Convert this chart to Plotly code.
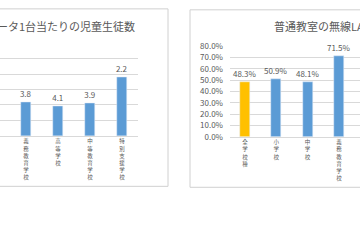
import plotly.graph_objects as go

# ---- data ----
left_title = "コンピュータ1台当たりの児童生徒数"
left_categories = ["義務教育学校", "高等学校", "中等教育学校", "特別支援学校"]
left_values = [3.8, 4.1, 3.9, 2.2]
left_axis_max = 6

right_title = "普通教室の無線LAN整備率"
right_categories = ["全学校種", "小学校", "中学校", "義務教育学校", "高等学校"]
right_values = [48.3, 50.9, 48.1, 71.5, 40.1]
right_tickvals = [0, 10, 20, 30, 40, 50, 60, 70, 80]

BLUE = "#5B9BD5"
YELLOW = "#FFC000"
GRID = "#D9D9D9"
TXT = "#595959"
FONT = "Noto Sans CJK JP"

W, H = 360, 240


def px(x):
    return x / W


def py(y):
    return 1 - y / H


def vert(s):
    return "<br>".join(list(s))


fig = go.Figure()

# left chart: reversed axis, bars rise from the axis maximum up to the value
fig.add_trace(go.Bar(
    x=list(range(len(left_categories))),
    y=[v - left_axis_max for v in left_values],
    base=left_axis_max,
    marker_color=BLUE,
    width=0.31,
    text=[f"{v:.1f}" for v in left_values],
    textposition="outside",
    constraintext="none",
    textfont=dict(size=8, color=TXT, family=FONT),
    cliponaxis=False,
    xaxis="x", yaxis="y",
))

colors = [YELLOW] + [BLUE] * (len(right_values) - 1)
fig.add_trace(go.Bar(
    x=list(range(len(right_categories))),
    y=right_values,
    marker_color=colors,
    width=0.32,
    text=[f"{v:.1f}%" for v in right_values],
    textposition="outside",
    constraintext="none",
    textfont=dict(size=8, color=TXT, family=FONT),
    cliponaxis=False,
    xaxis="x2", yaxis="y2",
))

fig.update_layout(
    width=W, height=H,
    margin=dict(l=0, r=0, t=0, b=0),
    paper_bgcolor="white",
    plot_bgcolor="white",
    showlegend=False,
    bargap=0,
    font=dict(family=FONT, color=TXT),
    xaxis=dict(
        domain=[0, px(138)],
        range=[-0.8125, len(left_categories) - 0.5],
        tickmode="array",
        tickvals=list(range(len(left_categories))),
        ticktext=[vert(c) for c in left_categories],
        tickfont=dict(size=5.5, color=TXT, family=FONT),
        showgrid=False, zeroline=False,
        showline=True, linecolor=GRID, linewidth=1,
        ticks="", anchor="y",
    ),
    yaxis=dict(
        domain=[py(136), py(39)],
        range=[left_axis_max, 0],
        dtick=1,
        showticklabels=False,
        gridcolor=GRID, gridwidth=1,
        zeroline=False, anchor="x",
    ),
    xaxis2=dict(
        domain=[px(230), 1],
        range=[-0.479, 3.674],
        tickmode="array",
        tickvals=list(range(len(right_categories))),
        ticktext=[vert(c) for c in right_categories],
        tickfont=dict(size=5.5, color=TXT, family=FONT),
        showgrid=False, zeroline=False,
        showline=True, linecolor=GRID, linewidth=1,
        ticks="", anchor="y2",
    ),
    yaxis2=dict(
        domain=[py(137), py(42)],
        range=[0, 80],
        tickmode="array",
        tickvals=right_tickvals,
        ticktext=[f"{v:.1f}%" for v in right_tickvals],
        tickfont=dict(size=8, color=TXT, family=FONT),
        gridcolor=GRID, gridwidth=1,
        zeroline=False, anchor="x2",
        ticklabelstandoff=6,
    ),
    shapes=[
        dict(type="rect", xref="paper", yref="paper",
             x0=px(-5), x1=px(168), y0=py(189), y1=py(3),
             line=dict(color="#D0D0D0", width=1), fillcolor="rgba(0,0,0,0)", layer="below"),
        dict(type="rect", xref="paper", yref="paper",
             x0=px(190), x1=px(370), y0=py(190), y1=py(4),
             line=dict(color="#D0D0D0", width=1), fillcolor="rgba(0,0,0,0)", layer="below"),
    ],
    annotations=[
        dict(text=left_title, xref="paper", yref="paper",
             x=px(137), y=py(21), xanchor="right", yanchor="middle",
             showarrow=False, font=dict(size=11, color=TXT, family=FONT)),
        dict(text=right_title, xref="paper", yref="paper",
             x=px(272), y=py(21), xanchor="left", yanchor="middle",
             showarrow=False, font=dict(size=11, color=TXT, family=FONT)),
    ],
)

fig.write_html("out.html")
